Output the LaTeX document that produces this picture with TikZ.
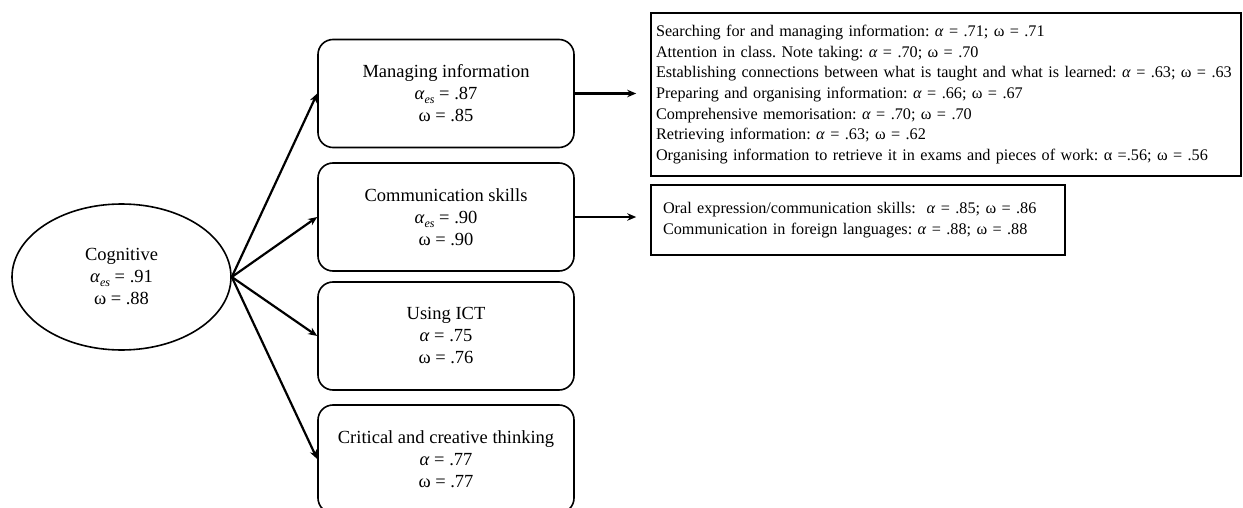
\documentclass[tikz,border=0pt]{standalone}
\usepackage{fontspec}
\setmainfont{Liberation Serif}
\usetikzlibrary{shapes.geometric,arrows.meta}
\frenchspacing

\newcommand{\ga}{\textit{α}}
\newcommand{\gaes}{\textit{α}\raisebox{-0.45ex}{\fontsize{12}{12}\selectfont\textit{es}}}

\tikzset{
  factor/.style={draw, line width=1.6pt, rounded corners=15pt,
    minimum width=256pt, minimum height=108pt, align=center,
    font=\fontsize{18.5}{22}\selectfont},
  latent/.style={draw, ellipse, line width=1.6pt, minimum width=219pt,
    minimum height=146pt, align=center, inner sep=0pt,
    font=\fontsize{18.5}{22}\selectfont},
  listbox/.style={draw, line width=1.6pt, align=left,
    font=\fontsize{16.2}{20.7}\selectfont},
  link/.style={line width=2.2pt, -{Stealth[length=9pt,width=7.5pt]}}
}

\begin{document}
\begin{tikzpicture}[x=1pt,y=-1pt]
  \useasboundingbox (0,0) rectangle (1243,508);
  \clip (0,0) rectangle (1243,508);

  % second-order factor
  \node[latent] (cog) at (121.5,277) {Cognitive\\ \gaes{} = .91\\ ω = .88};

  % first-order factors
  \node[factor] (m1) at (446,93.5) {Managing information\\ \gaes{} = .87\\ ω = .85};
  \node[factor] (m2) at (446,217) {Communication skills\\ \gaes{} = .90\\ ω = .90};
  \node[factor] (m3) at (446,336) {Using ICT\\ \ga{} = .75\\ ω = .76};
  \node[factor] (m4) at (446,459) {Critical and creative thinking\\ \ga{} = .77\\ ω = .77};

  % subscales
  \node[listbox, text width=580pt, inner xsep=5pt, minimum height=163pt] (s1) at (946,94.5)
    {Searching for and managing information: \ga{} = .71; ω = .71\\
     Attention in class. Note taking: \ga{} = .70; ω = .70\\
     Establishing connections between what is taught and what is learned: \ga{} = .63; ω = .63\\
     Preparing and organising information: \ga{} = .66; ω = .67\\
     Comprehensive memorisation: \ga{} = .70; ω = .70\\
     Retrieving information: \ga{} = .63; ω = .62\\
     Organising information to retrieve it in exams and pieces of work: α =.56; ω = .56};
  \node[listbox, text width=390pt, inner xsep=12pt, minimum height=70pt] (s2) at (858,220)
    {Oral expression/communication skills:~ \ga{} = .85; ω = .86\\
     Communication in foreign languages: \ga{} = .88; ω = .88};

  % loadings
  \foreach \m in {m1,m2,m3,m4}
    \draw[link] (cog.east) -- (\m.west);

  % links to subscales
  \draw[link, shorten >=14pt] (m1.east) -- (m1.east -| s1.west);
  \draw[link, shorten >=14pt] (m2.east) -- (m2.east -| s2.west);
\end{tikzpicture}
\end{document}
